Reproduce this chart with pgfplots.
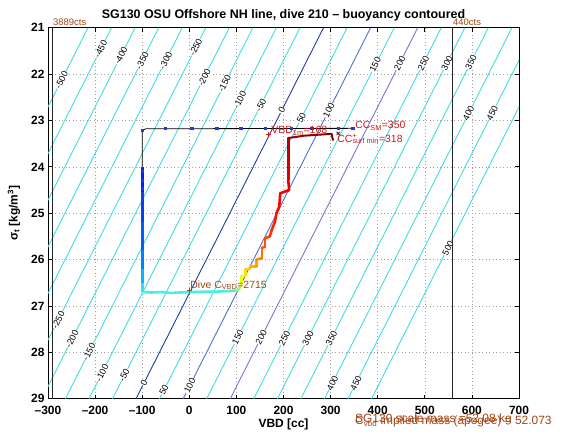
\documentclass[border=0pt]{standalone}
\usepackage{fontspec}
\setmainfont{Liberation Sans}
\usepackage{pgfplots}
\pgfplotsset{compat=1.18}
\usetikzlibrary{calc}
\definecolor{cy}{RGB}{64,222,224}
\definecolor{cnavy}{RGB}{30,60,160}
\definecolor{cblue}{RGB}{80,110,210}
\definecolor{clav}{RGB}{115,120,215}
\definecolor{annred}{RGB}{205,25,25}
\definecolor{brn}{RGB}{160,70,20}
\definecolor{dotblue}{RGB}{30,60,220}
\definecolor{j1}{RGB}{0,40,235}
\definecolor{j2}{RGB}{0,65,240}
\definecolor{j3}{RGB}{0,95,245}
\definecolor{j4}{RGB}{0,130,250}
\definecolor{j5}{RGB}{10,180,250}
\definecolor{j6}{RGB}{40,225,245}
\definecolor{j7}{RGB}{70,238,228}
\tikzset{clab/.style={fill=white,inner sep=0.4pt,rotate=63.2,font=\fontsize{9}{9}\selectfont}}
\begin{document}
\begin{tikzpicture}
\begin{axis}[name=ax, scale only axis, width=471bp, height=371bp,
 xmin=-300, xmax=700, ymin=21, ymax=29, y dir=reverse,
 xtick={-300,-200,...,700},
 xticklabels={--300,--200,--100,0,100,200,300,400,500,600,700},
 ytick={21,22,...,29},
 tick align=inside, major tick length=4bp,
 grid=major, grid style={gray!75, line width=0.6bp, dash pattern=on 1bp off 2.5bp},
 axis line style={line width=0.8bp},
 tick style={black, line width=0.8bp},
 ticklabel style={font=\fontsize{12}{13}\selectfont\bfseries},
 xticklabel style={yshift=-3.5bp},
 /pgf/number format/assume math mode=true,
 clip mode=individual,
 colormap/jet, point meta min=0, point meta max=1,
]
% buoyancy contours
\addplot[cy, line width=0.9bp] coordinates {(-215,21) (-613,29)};
\addplot[cy, line width=0.9bp] coordinates {(-165,21) (-563,29)};
\addplot[cy, line width=0.9bp] coordinates {(-115,21) (-513,29)};
\addplot[cy, line width=0.9bp] coordinates {(-65,21) (-463,29)};
\addplot[cy, line width=0.9bp] coordinates {(-15,21) (-413,29)};
\addplot[cy, line width=0.9bp] coordinates {(35,21) (-363,29)};
\addplot[cy, line width=0.9bp] coordinates {(85,21) (-313,29)};
\addplot[cy, line width=0.9bp] coordinates {(135,21) (-263,29)};
\addplot[cy, line width=0.9bp] coordinates {(185,21) (-213,29)};
\addplot[cy, line width=0.9bp] coordinates {(235,21) (-163,29)};
\addplot[cnavy, line width=0.9bp] coordinates {(285,21) (-113,29)};
\addplot[cy, line width=0.9bp] coordinates {(335,21) (-63,29)};
\addplot[cblue, line width=0.9bp] coordinates {(385,21) (-13,29)};
\addplot[cy, line width=0.9bp] coordinates {(435,21) (37,29)};
\addplot[clav, line width=0.9bp] coordinates {(485,21) (87,29)};
\addplot[cy, line width=0.9bp] coordinates {(535,21) (137,29)};
\addplot[cy, line width=0.9bp] coordinates {(585,21) (187,29)};
\addplot[cy, line width=0.9bp] coordinates {(635,21) (237,29)};
\addplot[cy, line width=0.9bp] coordinates {(685,21) (287,29)};
\addplot[cy, line width=0.9bp] coordinates {(735,21) (337,29)};
\addplot[cy, line width=0.9bp] coordinates {(785,21) (387,29)};
% contour labels (upper)
\node[clab] at (axis cs:-271,22.13) {-500};
\node[clab] at (axis cs:-188,21.46) {-450};
\node[clab] at (axis cs:-145,21.60) {-400};
\node[clab] at (axis cs:-100,21.71) {-350};
\node[clab] at (axis cs:-50,21.71) {-300};
\node[clab] at (axis cs:14,21.42) {-250};
\node[clab] at (axis cs:32,22.07) {-200};
\node[clab] at (axis cs:75,22.20) {-150};
\node[clab] at (axis cs:107,22.56) {-100};
\node[clab] at (axis cs:152,22.67) {-50};
\node[clab] at (axis cs:196,22.78) {0};
\node[clab] at (axis cs:238,22.95) {50};
\node[clab] at (axis cs:296,22.78) {100};
\node[clab] at (axis cs:395,21.80) {150};
\node[clab] at (axis cs:447,21.76) {200};
\node[clab] at (axis cs:497,21.76) {250};
\node[clab] at (axis cs:547,21.76) {300};
\node[clab] at (axis cs:598,21.74) {350};
\node[clab] at (axis cs:593,22.84) {400};
\node[clab] at (axis cs:643,22.84) {450};
\node[clab] at (axis cs:549,25.75) {500};
% contour labels (lower)
\node[clab] at (axis cs:-278,27.30) {-250};
\node[clab] at (axis cs:-249,27.71) {-200};
\node[clab] at (axis cs:-213,27.99) {-150};
\node[clab] at (axis cs:-185,28.44) {-100};
\node[clab] at (axis cs:-138,28.49) {-50};
\node[clab] at (axis cs:-96,28.66) {0};
\node[clab] at (axis cs:-54,28.81) {50};
\node[clab] at (axis cs:1,28.72) {100};
\node[clab] at (axis cs:103,27.67) {150};
\node[clab] at (axis cs:153,27.67) {200};
\node[clab] at (axis cs:202,27.69) {250};
\node[clab] at (axis cs:252,27.69) {300};
\node[clab] at (axis cs:302,27.69) {350};
\node[clab] at (axis cs:304,28.66) {400};
\node[clab] at (axis cs:354,28.66) {450};
% count limit lines
\addplot[black!85, line width=0.9bp] coordinates {(-290,21) (-290,29)};
\addplot[black!85, line width=0.9bp] coordinates {(559,21) (559,29)};
% dive path (thin black)
\addplot[black, line width=0.8bp] coordinates {(-100,26.69) (-100,23.21) (-92,23.18) (347,23.17)};
% coloured trace: descent (blue to cyan)
\addplot[j1, line width=2.6bp] coordinates {(-100,24.00) (-100,24.60)};
\addplot[j2, line width=2.6bp] coordinates {(-100,24.60) (-100,25.20)};
\addplot[j3, line width=2.6bp] coordinates {(-100,25.20) (-100,25.80)};
\addplot[j4, line width=2.6bp] coordinates {(-100,25.80) (-100,26.20)};
\addplot[j5, line width=2.6bp] coordinates {(-100,26.20) (-100,26.50)};
\addplot[j6, line width=2.6bp] coordinates {(-100,26.50) (-100,26.70)};
% apogee pump (cyan)
\addplot[j7, line width=2.6bp, line join=round] coordinates {(-100,26.70) (-80,26.71) (-60,26.70) (-40,26.72) (-20,26.71) (0,26.70) (20,26.70) (40,26.69) (60,26.69) (80,26.68) (100,26.67)};
% climb (yellow to red)
\addplot[mesh, line width=2.6bp, line cap=round, point meta=explicit] table[x=x,y=y,meta=c] {
x y c
100 26.67 0.45
108 26.60 0.56
111 26.51 0.60
111 26.35 0.62
119 26.35 0.64
119 26.22 0.66
129 26.19 0.68
129 26.15 0.69
143 26.15 0.71
143 26.00 0.73
154 25.97 0.75
154 25.75 0.77
161 25.72 0.79
161 25.54 0.80
171 25.50 0.82
175 25.36 0.83
182 25.18 0.85
185 25.00 0.86
191 24.86 0.87
193 24.57 0.88
212 24.50 0.89
210 24.28 0.90
210 23.80 0.92
210 23.38 0.95
};
\addplot[mesh, line width=2bp, line cap=round, point meta=explicit] table[x=x,y=y,meta=c] {
x y c
210 23.38 0.97
242 23.33 0.98
270 23.31 0.99
302 23.29 1.0
305 23.42 1.0
};
% blue dots
\addplot[only marks, mark=square*, mark size=1.1bp, dotblue] coordinates {
(-100,24.10) (-100,24.28) (-100,24.46) (-100,24.57) (-100,24.64) (-100,24.71) (-100,24.82) (-100,24.93)
(-100,23.21) (-51,23.17) (5,23.17) (58,23.17) (109,23.17) (161,23.17) (217,23.17) (260,23.17) (316,23.17) (347,23.17)};
% markers
\addplot[only marks, mark=+, mark size=2.6bp, annred, line width=0.8bp] coordinates {(168,23.30)};
\addplot[only marks, mark=x, mark size=2.2bp, black!70!red, line width=0.8bp] coordinates {(316,23.28)};
\addplot[only marks, mark=+, mark size=2.6bp, brn, line width=0.8bp] coordinates {(0,26.67)};
% annotations
\node[anchor=west, inner sep=0pt, text=annred, font=\fontsize{10.5}{11}\selectfont] at (axis cs:174,23.22) {VBD\textsubscript{1m}=168};
\node[anchor=west, inner sep=0pt, text=annred, font=\fontsize{10.5}{11}\selectfont] at (axis cs:352,23.12) {CC\textsubscript{SM}=350};
\node[anchor=west, inner sep=0pt, text=annred, font=\fontsize{10.5}{11}\selectfont] at (axis cs:314,23.40) {CC\rlap{\textsuperscript{+}}\textsubscript{surf min}=318};
\node[anchor=west, inner sep=0pt, text=brn, font=\fontsize{10.5}{11}\selectfont] at (axis cs:2,26.55) {Dive C\textsubscript{VBD}=2715};
\end{axis}
% outer texts
\node[anchor=base, font=\fontsize{12.5}{13}\selectfont\bfseries] at ($(ax.north)+(0,9.4bp)$) {SG130 OSU Offshore NH line, dive 210 -- buoyancy contoured};
\node[anchor=base, font=\fontsize{12}{13}\selectfont\bfseries] at ($(ax.south)+(0,-29bp)$) {VBD [cc]};
\node[rotate=90, anchor=center, font=\fontsize{12}{13}\selectfont\bfseries] at ($(ax.west)+(-34bp,0)$) {σ\textsubscript{t} [kg/m\textsuperscript{3}]};
\node[anchor=base west, inner sep=0pt, text=brn, font=\fontsize{9.5}{10}\selectfont] at ($(ax.north west)+(5bp,2.5bp)$) {3889cts};
\node[anchor=base west, inner sep=0pt, text=brn, font=\fontsize{9.5}{10}\selectfont] at ($(ax.north west)+(405bp,2.5bp)$) {440cts};
\node[anchor=base west, inner sep=0pt, text=brn, font=\fontsize{12}{13}\selectfont] at ($(ax.south west)+(307bp,-23.7bp)$) {SG130 scale mass =52.08 kg};
\node[anchor=base west, inner sep=0pt, text=brn, font=\fontsize{12}{13}\selectfont] at ($(ax.south west)+(307bp,-26bp)$) {C\textsubscript{vbd} implied mass (apogee) = 52.073};
\pgfresetboundingbox
\path[use as bounding box] ($(ax.south west)+(-48bp,-40bp)$) rectangle ($(ax.north east)+(51bp,27.7bp)$);
\end{tikzpicture}
\end{document}
